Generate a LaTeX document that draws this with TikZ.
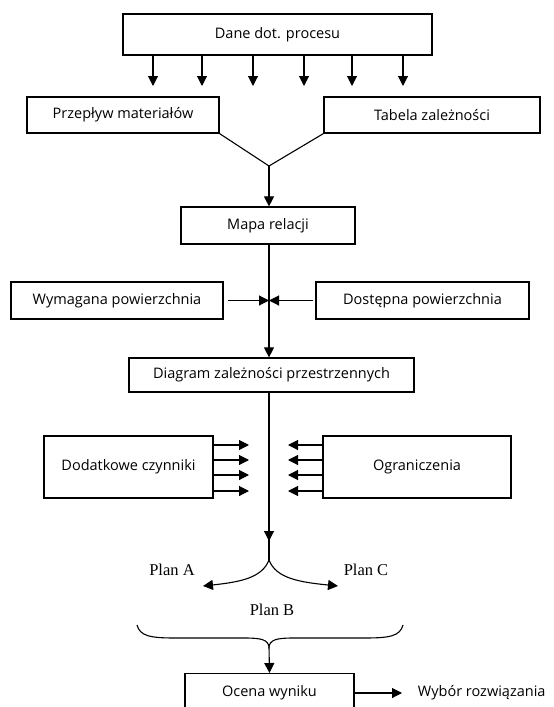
\documentclass[tikz,border=0pt]{standalone}
\usepackage{fontspec}
\setmainfont{Open Sans}
\newfontfamily\planfont{Liberation Serif}
\usetikzlibrary{arrows.meta}

\begin{document}
\begin{tikzpicture}[x=1pt,y=-1pt,line width=1.1pt,
    every node/.style={draw,line width=1.2pt,rectangle,font=\fontsize{14.5}{16}\selectfont},
    plan/.style={draw=none,font=\planfont\fontsize{16.5}{18}\selectfont},
    txt/.style={draw=none},
    arr/.style={-{Triangle[length=10pt,width=10pt]}}]
    \useasboundingbox (0,0) rectangle (554,707);
    \clip (0,0) rectangle (554,707);

    \node[minimum width=309pt,minimum height=41pt] (dane) at (277.5,34.5) {Dane dot. procesu};
    \node[minimum width=192pt,minimum height=36pt] (przeplyw) at (123,115) {Przepływ materiałów};
    \node[minimum width=216pt,minimum height=36pt] (tabela) at (432,115) {Tabela zależności};
    \node[minimum width=174pt,minimum height=37pt] (mapa) at (268,225.5) {Mapa relacji};
    \node[minimum width=212pt,minimum height=37pt] (wymagana) at (117,300.5) {Wymagana powierzchnia};
    \node[minimum width=213pt,minimum height=37pt] (dostepna) at (422.5,300.5) {Dostępna powierzchnia};
    \node[minimum width=285pt,minimum height=34pt] (diagram) at (271.5,375) {Diagram zależności przestrzennych};
    \node[minimum width=169pt,minimum height=62pt] (dodatkowe) at (128.5,467) {Dodatkowe czynniki};
    \node[minimum width=188pt,minimum height=62pt] (ograniczenia) at (417,467) {Ograniczenia};
    \node[minimum width=169pt,minimum height=50pt,anchor=north] (ocena) at (269.5,673) {};
    \node[txt] (ocenatxt) at (269.5,693) {Ocena wyniku};
    \node[txt,anchor=west] (wybor) at (414,693) {Wybór rozwiązania};

    \node[plan] (planA) at (172,570) {Plan A};
    \node[plan] (planB) at (272,610) {Plan B};
    \node[plan] (planC) at (366,570) {Plan C};

    \coordinate (zbieg) at (269,166);
    \coordinate (styk) at (269,300.5);
    \coordinate (rozw) at (269,560);
    \coordinate (koncA) at (203,586);
    \coordinate (koncC) at (338,586);
    \coordinate (klamra) at (269,647);
    \coordinate (wyborA) at (402,693);

    % strzalki z danych
    \foreach \x in {153,202,253,304,352,403}
      \draw[arr] (\x,55) -- (\x,86);

    \draw (przeplyw.south east) -- (zbieg);
    \draw (tabela.south west) -- (zbieg);
    \draw[arr] (zbieg) -- (mapa.north -| zbieg);

    \draw (mapa.south -| styk) -- (styk);
    \draw[arr] (wymagana.east) ++(4,0) -- (styk);
    \draw[arr] (dostepna.west) ++(-2,0) -- (styk);
    \draw[arr] (styk) -- (diagram.north -| styk);

    \draw[arr] (diagram.south -| rozw) -- (269,541);
    \draw (269,535) -- (rozw);
    \foreach \y in {445,460,475,491} {
      \draw[arr] (dodatkowe.east |- 0,\y) -- (249,\y);
      \draw[arr] (ograniczenia.west |- 0,\y) -- (288,\y);
    }

    \draw[arr] (rozw) .. controls (262,578) and (240,582) .. (koncA);
    \draw[arr] (rozw) .. controls (276,578) and (298,582) .. (koncC);

    % klamra
    \draw (137,625) .. controls (140,636) and (150,638) .. (175,638) -- (245,638)
          .. controls (262,638) and (268,640) .. (klamra)
          .. controls (270,640) and (276,638) .. (293,638) -- (365,638)
          .. controls (390,638) and (400,636) .. (403,625);
    \draw[arr] (klamra) -- (ocena.north);
    \draw[arr] (ocena.east |- wyborA) -- (wyborA);
  \end{tikzpicture}
\end{document}
